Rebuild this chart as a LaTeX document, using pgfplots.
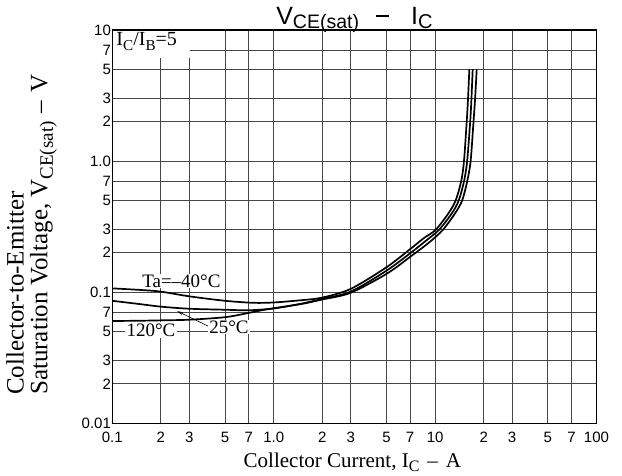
\documentclass[border=0pt]{standalone}
\usepackage{fontspec}
\setmainfont{Liberation Serif}
\newfontfamily\arial{Liberation Sans}
\usepackage{graphicx}
\usepackage{pgfplots}
\pgfplotsset{compat=1.18}
\usetikzlibrary{arrows.meta}
\newcommand{\sub}[1]{\raisebox{-0.22em}{\scalebox{0.76}{#1}}}
\begin{document}
\begin{tikzpicture}
\useasboundingbox (-112.3pt,-51.7pt) rectangle (509.7pt,423.3pt);
\begin{axis}[
  name=ax, scale only axis, width=484.2pt, height=393.3pt,
  at={(0,0)}, anchor=south west,
  xmode=log, ymode=log, xmin=0.1, xmax=100, ymin=0.01, ymax=10,
  xtick={0.1,0.2,0.3,0.5,0.7,1,2,3,5,7,10,20,30,50,70,100},
  xticklabels={0.1,2,3,5,7,1.0,2,3,5,7,10,2,3,5,7,100},
  ytick={0.01,0.02,0.03,0.05,0.07,0.1,0.2,0.3,0.5,0.7,1,2,3,5,7,10},
  yticklabels={0.01,2,3,5,7,0.1,2,3,5,7,1.0,2,3,5,7,10},
  grid=major, major grid style={draw=black!72, line width=0.9pt},
  axis line style={line width=1.1pt},
  major tick length=0pt, minor tick length=0pt,
  tick label style={font=\arial\fontsize{15}{15}\selectfont},
  xticklabel style={anchor=base, yshift=-19pt},
  yticklabel style={anchor=east, inner xsep=1.2pt},
  clip mode=individual,
]
% Ta = -40 C
\addplot[black, line width=1.7pt, smooth, tension=0.5] coordinates {
(0.1,0.107)(0.15,0.104)(0.2,0.101)(0.3,0.093)(0.5,0.086)(0.75,0.083)(1.0,0.0835)(1.5,0.087)(2,0.091)(3,0.106)(5,0.155)(7,0.213)(8.5,0.258)(10.1,0.3)(12.1,0.4)(13.4,0.5)(14.5,0.7)(15.1,1.0)(15.7,2)(16.0,3)(16.3,5)};
% Ta = 25 C
\addplot[black, line width=1.7pt, smooth, tension=0.5] coordinates {
(0.1,0.086)(0.15,0.081)(0.2,0.0776)(0.3,0.0748)(0.5,0.0735)(0.7,0.0728)(1.0,0.0752)(1.5,0.082)(2,0.089)(3,0.101)(5,0.146)(7,0.198)(8.7,0.245)(10.6,0.3)(12.7,0.4)(14.0,0.5)(15.1,0.7)(15.8,1.0)(16.5,2)(16.8,3)(17.1,5)};
% Ta = 120 C
\addplot[black, line width=1.7pt, smooth, tension=0.5] coordinates {
(0.1,0.0603)(0.15,0.0606)(0.2,0.061)(0.3,0.0617)(0.5,0.0645)(0.7,0.0695)(0.85,0.073)(1.0,0.0754)(1.5,0.0815)(2,0.088)(3,0.099)(5,0.138)(7,0.186)(9.2,0.24)(11.2,0.3)(13.3,0.4)(14.7,0.5)(15.8,0.7)(16.6,1.0)(17.3,2)(17.7,3)(18.1,5)};
% labels
\fill[white] ([xshift=0.6pt,yshift=-0.6pt]rel axis cs:0,1) rectangle (axis cs:0.303,6.11);
\node[anchor=base west, inner sep=0pt, font=\fontsize{20}{20}\selectfont] at ([xshift=4pt,yshift=-16pt]rel axis cs:0,1) {I\sub{C}/I\sub{B}=5};
\node[fill=white, inner sep=1pt, font=\fontsize{19}{19}\selectfont] at (axis cs:0.268,0.1217) {Ta=--40°C};
\node[fill=white, inner sep=1.2pt, font=\fontsize{19}{19}\selectfont] at (axis cs:0.1737,0.0515) {120°C};
\draw[black, line width=0.6pt, -{Stealth[length=6pt,width=3pt,open]}] (axis cs:0.40,0.0545) -- (axis cs:0.252,0.0718);
\node[fill=white, inner sep=1pt, font=\fontsize{19}{19}\selectfont] at (axis cs:0.528,0.0543) {25°C};
% title
\node[anchor=base, font=\arial\fontsize{25}{25}\selectfont] at ([yshift=5pt]rel axis cs:0.5,1) {V\raisebox{-4pt}{\fontsize{19.5}{20}\selectfont CE(sat)}\hspace{17pt}\rule[7.5pt]{13pt}{2.6pt}\hspace{22pt}I\raisebox{-4pt}{\fontsize{20}{20}\selectfont C}};
% axis labels
\node[anchor=base, font=\fontsize{21}{21}\selectfont] at ([xshift=-2pt,yshift=-44pt]rel axis cs:0.5,0) {Collector Current, I\sub{C}\hspace{8pt}--\hspace{8pt}A};
\node[rotate=90, anchor=south west, inner sep=0pt] at ([xshift=-55.3pt]rel axis cs:0,0.072) {\fontsize{25}{21}\selectfont\begin{tabular}{@{}l@{}}Collector-to-Emitter\\Saturation Voltage, V\sub{CE(sat)}\hspace{8pt}--\hspace{8pt}V\end{tabular}};
\end{axis}
\end{tikzpicture}
\end{document}
